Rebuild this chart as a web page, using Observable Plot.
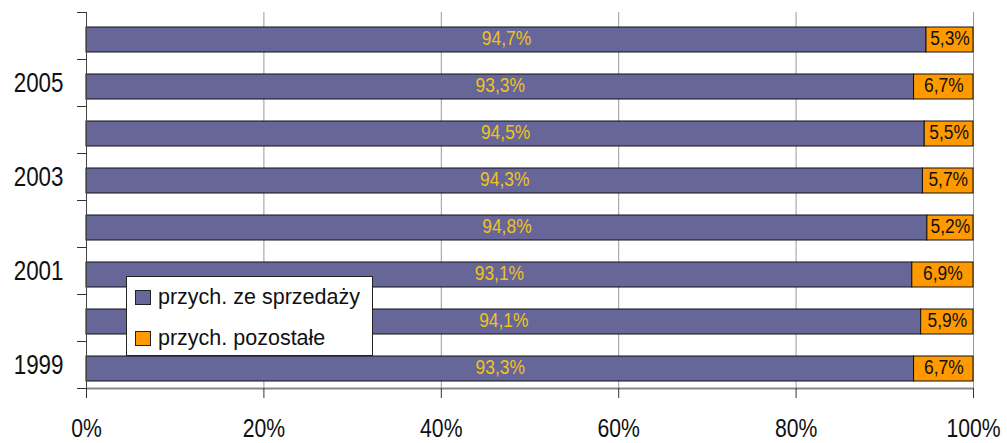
<!DOCTYPE html>
<html>
<head>
<meta charset="utf-8">
<script src="https://cdn.jsdelivr.net/npm/d3@7"></script>
<script src="https://cdn.jsdelivr.net/npm/@observablehq/plot@0.6"></script>
<style>
  html, body { margin: 0; padding: 0; background: #fff; }
  #wrap { position: relative; width: 1007px; height: 443px; font-family: "Liberation Sans", Arial, sans-serif; }
  #legend { position: absolute; left: 126px; top: 276px; width: 245px; height: 78px; border: 1px solid #222; background: #fff; box-sizing: content-box; }
  .item { position: absolute; left: 8px; display: flex; align-items: center; font-size: 21.5px; color: #111; white-space: nowrap; }
  .sw { width: 16px; height: 15px; border: 1px solid #222; margin-right: 7px; box-sizing: border-box; }
</style>
</head>
<body>
<div id="wrap"></div>
<script>
const years = [1999, 2000, 2001, 2002, 2003, 2004, 2005, 2006];
const sales = [93.3, 94.1, 93.1, 94.8, 94.3, 94.5, 93.3, 94.7];
const other = [6.7, 5.9, 6.9, 5.2, 5.7, 5.5, 6.7, 5.3];
const labeledYears = [1999, 2001, 2003, 2005];
const xTicks = [0, 0.2, 0.4, 0.6, 0.8, 1];
const seriesNames = ["przych. ze sprzedaży", "przych. pozostałe"];
const colors = ["#666699", "#ff9900"];

const FONT = "'Liberation Sans', Arial, sans-serif";
const fmt = v => v.toFixed(1).replace(".", ",") + "%";
const rows = years.map((y, i) => ({year: y, i, sales: sales[i] / 100, other: other[i] / 100}));
const yearRows = rows.filter(r => labeledYears.includes(r.year));

const chart = Plot.plot({
  width: 1007,
  height: 443,
  marginLeft: 86,
  marginRight: 34,
  marginTop: 12,
  marginBottom: 55,
  style: {fontFamily: FONT, background: "#fff", color: "#111"},
  x: {domain: [0, 1], label: null},
  y: {domain: [0, 8], label: null},
  marks: [
    Plot.ruleX(xTicks.slice(1), {y1: 0, y2: 8, stroke: "#9a9a9a", strokeWidth: 1}),
    Plot.rectX(rows, {x1: 0, x2: "sales", y1: d => d.i, y2: d => d.i + 1, insetTop: 15, insetBottom: 7, fill: colors[0], stroke: "#111", strokeWidth: 1}),
    Plot.rectX(rows, {x1: "sales", x2: 1, y1: d => d.i, y2: d => d.i + 1, insetTop: 15, insetBottom: 7, fill: colors[1], stroke: "#111", strokeWidth: 1}),
    Plot.text(rows, {x: d => d.sales / 2, y: d => d.i + 0.5, dy: 2.5, text: d => fmt(d.sales * 100), fill: "#f2c21a", fontSize: 20}),
    Plot.text(rows, {x: d => (d.sales + 1) / 2, y: d => d.i + 0.5, dy: 2.5, text: d => fmt(other[d.i]), fill: "#111", fontSize: 20}),
    Plot.ruleY([0], {stroke: "#888", strokeWidth: 2}),
    Plot.ruleX([0], {stroke: "#444", strokeWidth: 1}),
    Plot.axisX({ticks: xTicks, tickFormat: d => Math.round(d * 100) + "%", tickSize: 10, tickPadding: 19.5, fontSize: 26.5, stroke: "#333", label: null}),
    Plot.axisY({ticks: d3.range(9), tickSize: 9, tickFormat: () => "", stroke: "#333", label: null}),
    Plot.text(yearRows, {x: 0, y: d => d.i + 0.5, dx: -23, text: d => String(d.year), textAnchor: "end", fontSize: 28, fill: "#111"})
  ]
});

const wrap = document.getElementById("wrap");
wrap.appendChild(chart);

// condense text horizontally (the reference uses a narrow face)
chart.querySelectorAll("text").forEach(t => {
  const fs = parseFloat(getComputedStyle(t).fontSize);
  const s = fs >= 26 ? 0.8 : 0.87;
  const len = t.getComputedTextLength();
  if (len > 0) {
    t.setAttribute("textLength", (len * s).toFixed(2));
    t.setAttribute("lengthAdjust", "spacingAndGlyphs");
  }
});

const legend = document.createElement("div");
legend.id = "legend";
seriesNames.forEach((name, k) => {
  const it = document.createElement("div");
  it.className = "item";
  it.style.top = (k === 0 ? 8 : 49) + "px";
  const sw = document.createElement("div");
  sw.className = "sw";
  sw.style.background = colors[k];
  const t = document.createElement("span");
  t.textContent = name;
  it.appendChild(sw);
  it.appendChild(t);
  legend.appendChild(it);
});
wrap.appendChild(legend);
</script>
</body>
</html>
